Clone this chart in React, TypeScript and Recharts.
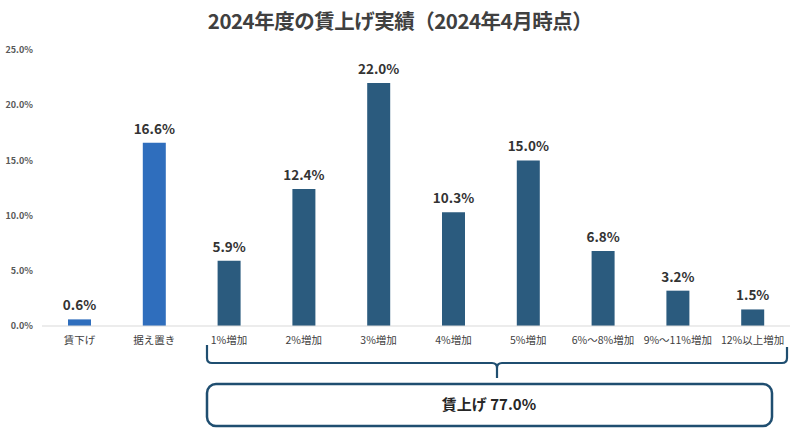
import React from "react";
import { BarChart, Bar, XAxis, YAxis, Cell, LabelList } from "recharts";

const categories = ["賃下げ", "据え置き", "1%増加", "2%増加", "3%増加", "4%増加", "5%増加", "6%〜8%増加", "9%〜11%増加", "12%以上増加"];
const values = [0.6, 16.6, 5.9, 12.4, 22.0, 10.3, 15.0, 6.8, 3.2, 1.5];
const barColors = ["#2f6ebd", "#2f6ebd", "#2b5b7e", "#2b5b7e", "#2b5b7e", "#2b5b7e", "#2b5b7e", "#2b5b7e", "#2b5b7e", "#2b5b7e"];
const yTicks = [0, 5, 10, 15, 20, 25];
const title = "2024年度の賃上げ実績（2024年4月時点）";
const summaryLabel = "賃上げ 77.0%";

const data = categories.map((name, i) => ({ name, value: values[i] }));

const font = "'Noto Sans CJK JP', 'Noto Sans', sans-serif";

export default function App() {
  return (
    <div style={{ position: "fixed", left: 0, top: 0, width: 800, height: 438, background: "#fff", fontFamily: font }}>
      <div style={{ position: "absolute", left: 0, top: 5, width: 800, textAlign: "center", fontSize: 20.5, fontWeight: 700, color: "#404040", letterSpacing: -0.5 }}>
        {title}
      </div>
      <BarChart width={800} height={438} data={data} margin={{ top: 50, right: 10, bottom: 82, left: 0 }}>
        <XAxis
          dataKey="name"
          height={30}
          tickLine={false}
          axisLine={{ stroke: "#d9d9d9" }}
          tick={{ fontSize: 10.5, fill: "#404040", fontFamily: font }}
          tickMargin={5}
          interval={0}
        />
        <YAxis
          width={42}
          domain={[0, 25]}
          ticks={yTicks}
          axisLine={false}
          tickLine={false}
          tickSize={0}
          tickMargin={9}
          tickFormatter={(v: number) => `${v.toFixed(1)}%`}
          tick={{ fontSize: 9, fill: "#595959", fontFamily: font, fontWeight: 700 }}
        />
        <Bar dataKey="value" barSize={23} isAnimationActive={false}>
          {data.map((d, i) => (
            <Cell key={d.name} fill={barColors[i]} />
          ))}
          <LabelList
            dataKey="value"
            position="top"
            offset={9}
            formatter={(v: any) => `${Number(v).toFixed(1)}%`}
            style={{ fontSize: 13.5, fontWeight: 700, fill: "#333333", fontFamily: font }}
          />
        </Bar>
      </BarChart>
      <svg width={800} height={438} style={{ position: "absolute", left: 0, top: 0, pointerEvents: "none" }}>
        <path
          d="M207,345 L207,358 Q207,363 212,363 L492,363 Q497,363 497,368 L497,378 L497,368 Q497,363 502,363 L782,363 Q787,363 787,358 L787,347"
          fill="none"
          stroke="#1f4e70"
          strokeWidth={2.2}
        />
        <rect x={207} y={384} width={565} height={42} rx={9} ry={9} fill="#fff" stroke="#1f4e70" strokeWidth={2.5} />
        <text x={489} y={410} textAnchor="middle" fontSize={15} fontWeight={700} fill="#262626" fontFamily={font}>
          {summaryLabel}
        </text>
      </svg>
    </div>
  );
}
